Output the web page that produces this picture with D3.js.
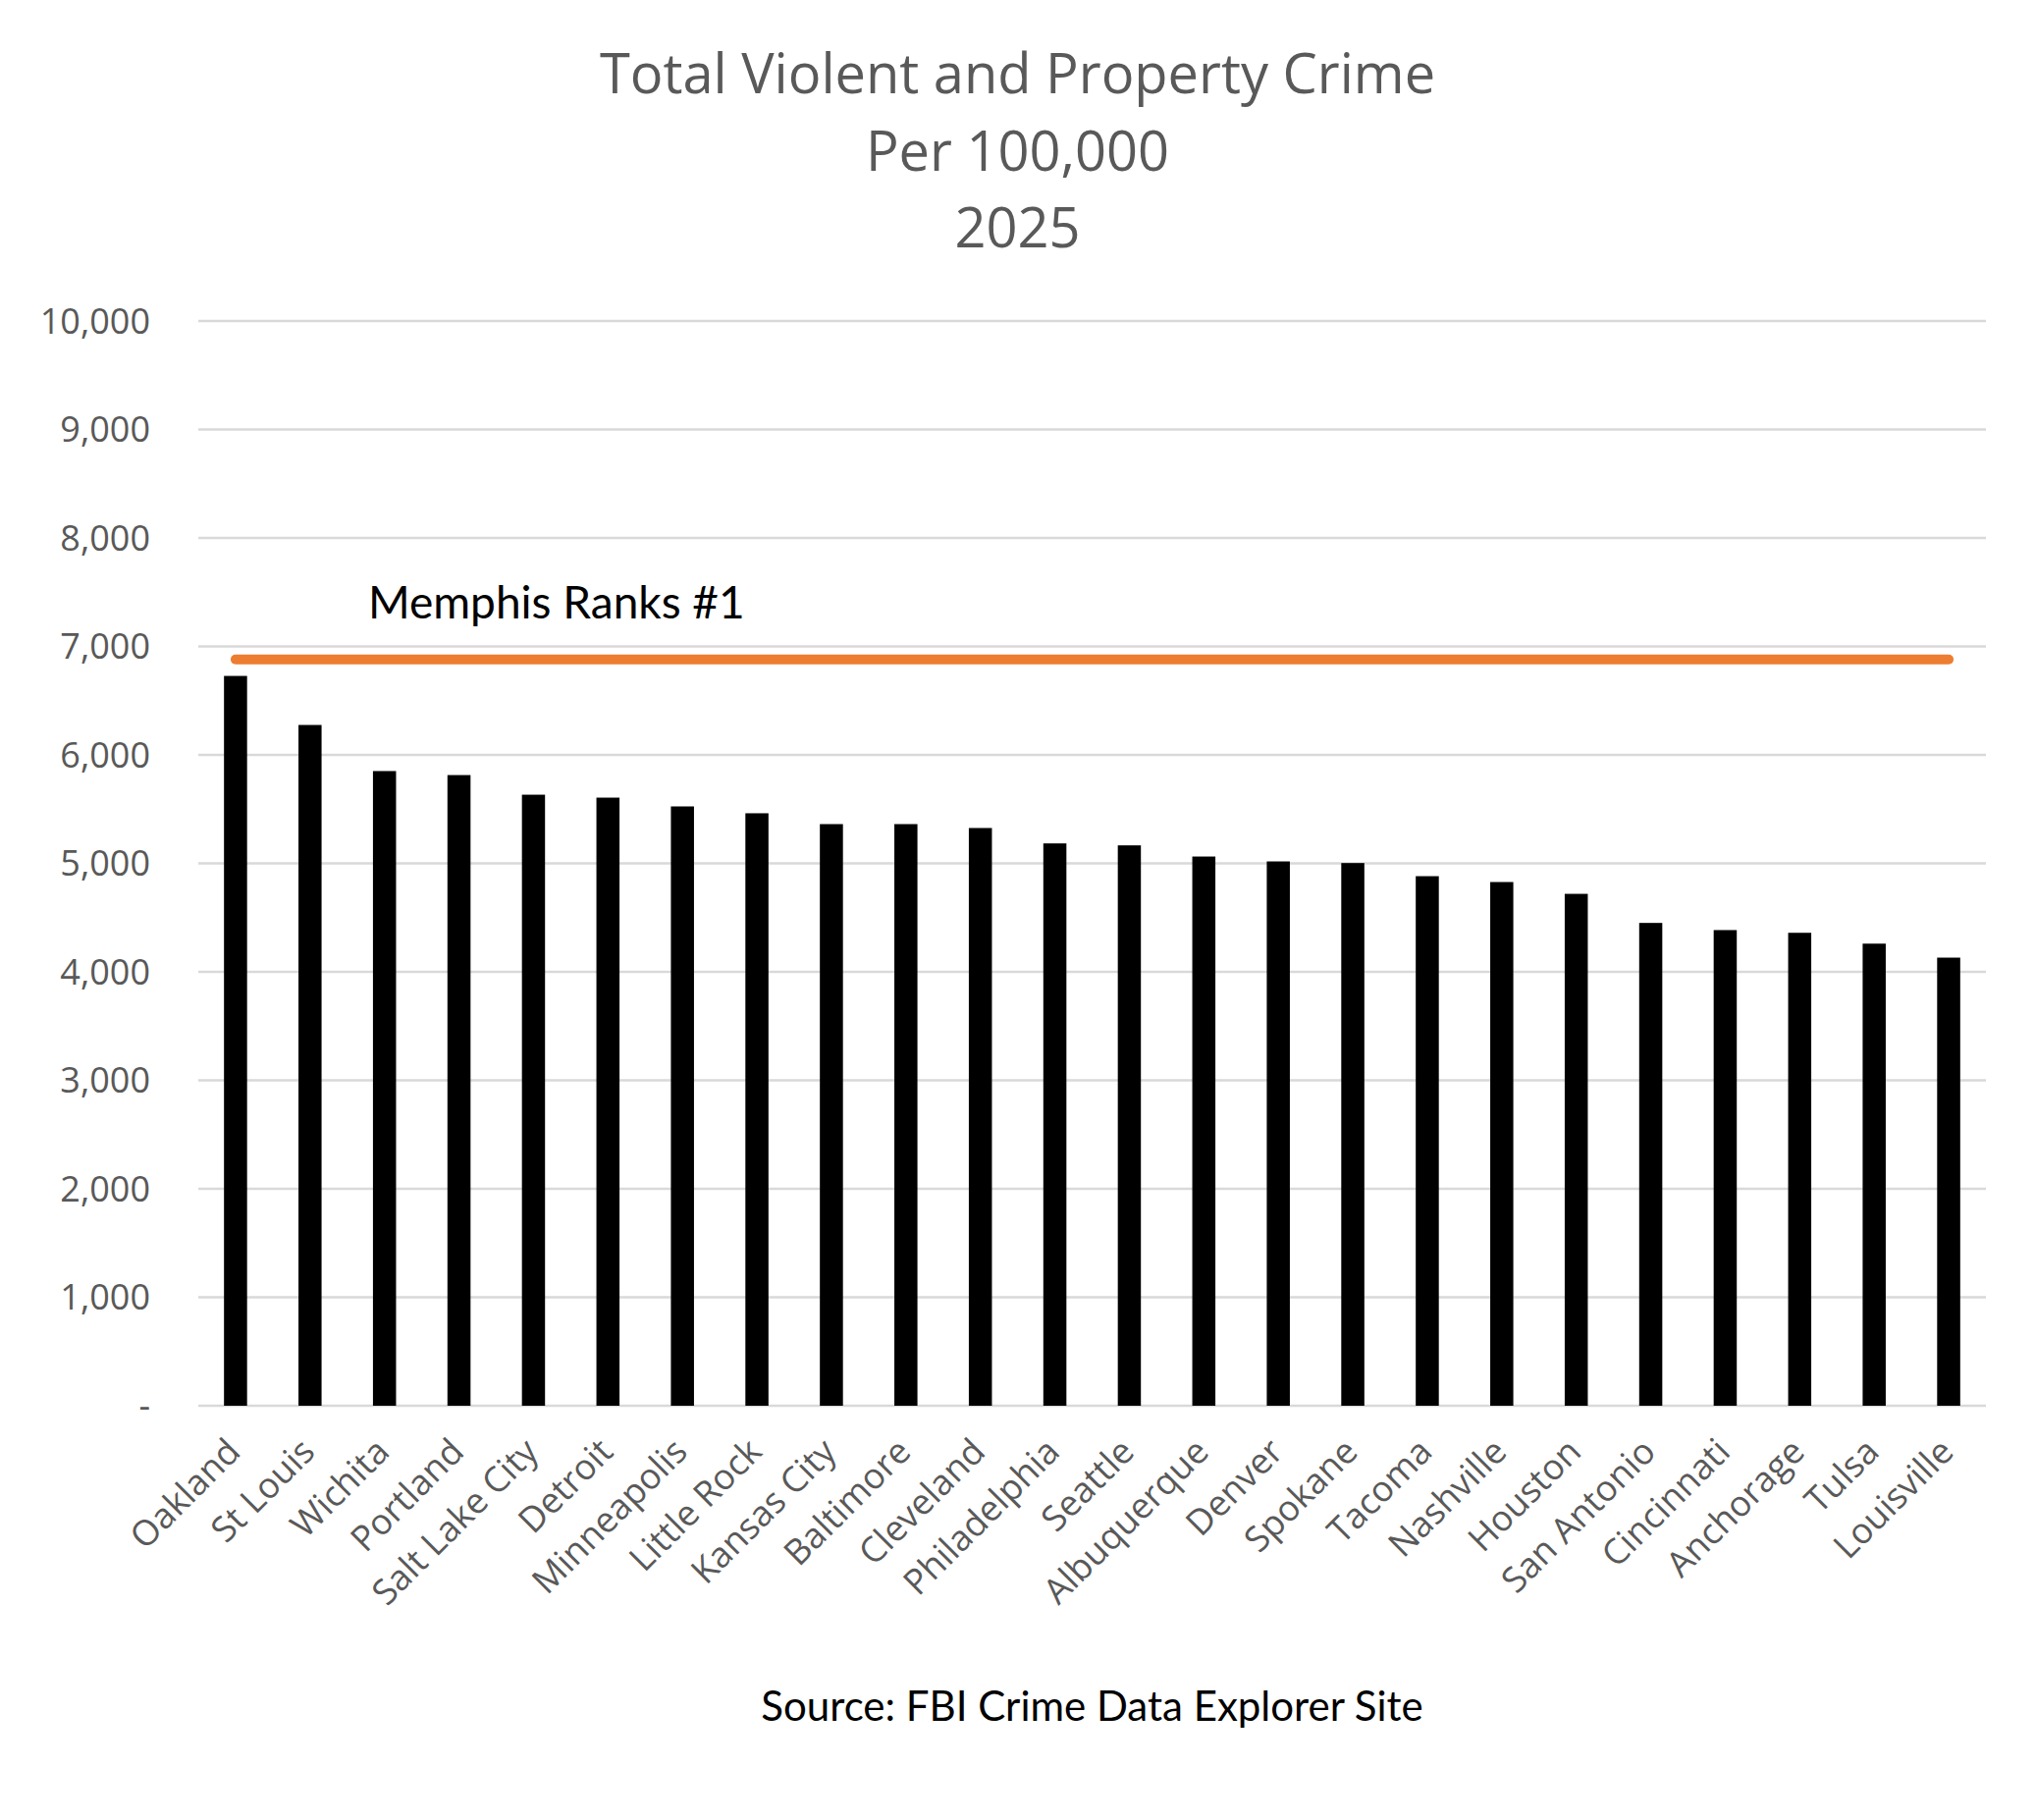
<!DOCTYPE html>
<html>
<head>
<meta charset="utf-8">
<script src="https://cdn.jsdelivr.net/npm/d3@7"></script>
<style>
  html, body { margin: 0; padding: 0; background: #fff; }
  svg { display: block; }
</style>
</head>
<body>
<div id="chart"></div>
<script>
// data
const cities = [
  "Oakland", "St Louis", "Wichita", "Portland", "Salt Lake City", "Detroit",
  "Minneapolis", "Little Rock", "Kansas City", "Baltimore", "Cleveland",
  "Philadelphia", "Seattle", "Albuquerque", "Denver", "Spokane", "Tacoma",
  "Nashville", "Houston", "San Antonio", "Cincinnati", "Anchorage", "Tulsa",
  "Louisville"
];
const crimeRate = [
  6728, 6276, 5851, 5814, 5633, 5606, 5525, 5462, 5362, 5362, 5326, 5184,
  5166, 5063, 5018, 5003, 4882, 4828, 4719, 4451, 4385, 4360, 4260, 4131
];
const memphisRate = 6880;
const yTicks = [0, 1000, 2000, 3000, 4000, 5000, 6000, 7000, 8000, 9000, 10000];
const titleLines = ["Total Violent and Property Crime", "Per 100,000", "2025"];
const noteText = "Memphis Ranks #1";
const sourceText = "Source: FBI Crime Data Explorer Site";

const width = 2073;
const height = 1854;
const margin = { top: 327, right: 50, bottom: 422, left: 202 };
const innerWidth = width - margin.left - margin.right;
const innerHeight = height - margin.top - margin.bottom;

const GRAY = "#595959";
const GRID = "#d9d9d9";
const ORANGE = "#ed7d31";

const rows = cities.map((c, i) => ({ city: c, value: crimeRate[i] }));

const svg = d3
  .select("#chart")
  .append("svg")
  .attr("width", width)
  .attr("height", height);

//title
svg
  .append("g")
  .selectAll("text")
  .data(titleLines)
  .join("text")
  .attr("x", width / 2)
  .attr("y", (d, i) => 95 + i * 78.5)
  .attr("text-anchor", "middle")
  .attr("font-family", "'Open Sans', sans-serif")
  .attr("font-size", 56)
  .attr("fill", GRAY)
  .text((d) => d);

const g = svg
  .append("g")
  .attr("transform", `translate(${margin.left},${margin.top})`);

//scales
const x = d3.scaleBand().domain(cities).range([0, innerWidth]).padding(0);
const y = d3.scaleLinear().domain([0, 10000]).range([innerHeight, 0]);
const barW = x.bandwidth() * 0.31;

//gridlines
g.append("g")
  .attr("class", "grid")
  .selectAll("line")
  .data(yTicks)
  .join("line")
  .attr("x1", 0)
  .attr("x2", innerWidth)
  .attr("y1", (d) => y(d))
  .attr("y2", (d) => y(d))
  .attr("stroke", GRID)
  .attr("stroke-width", 2.5);

//y labels
g.append("g")
  .attr("transform", "translate(-49,0)")
  .call(
    d3
      .axisLeft(y)
      .tickValues(yTicks)
      .tickSize(0)
      .tickFormat((d) => (d === 0 ? "-" : d3.format(",")(d)))
  )
  .call((sel) => sel.select(".domain").remove())
  .selectAll("text")
  .attr("font-family", "'Open Sans', sans-serif")
  .attr("font-size", 36)
  .attr("fill", GRAY)
  .attr("x", 0)
  .attr("dy", "0.34em");

//bars
g.selectAll("rect.bar")
  .data(rows)
  .join("rect")
  .attr("class", "bar")
  .attr("x", (d) => x(d.city) + (x.bandwidth() - barW) / 2)
  .attr("y", (d) => y(d.value))
  .attr("width", barW)
  .attr("height", (d) => y(0) - y(d.value))
  .attr("fill", "#000");

//memphis line
const lineData = cities.map((c) => ({ city: c, value: memphisRate }));
g.append("path")
  .datum(lineData)
  .attr("fill", "none")
  .attr("stroke", ORANGE)
  .attr("stroke-width", 10)
  .attr("stroke-linecap", "round")
  .attr(
    "d",
    d3
      .line()
      .x((d) => x(d.city) + x.bandwidth() / 2)
      .y((d) => y(d.value))
  );

//x labels, rotated like excel
g.append("g")
  .selectAll("text")
  .data(cities)
  .join("text")
  .attr(
    "transform",
    (d) => `translate(${x(d) + x.bandwidth() / 2 - 2},${innerHeight + 40}) rotate(-45)`
  )
  .attr("text-anchor", "end")
  .attr("dy", "0.35em")
  .attr("font-family", "'Open Sans', sans-serif")
  .attr("font-size", 36)
  .attr("fill", GRAY)
  .text((d) => d);

//annotation
svg
  .append("text")
  .attr("x", 375)
  .attr("y", 630)
  .attr("font-family", "Lato, sans-serif")
  .attr("font-size", 46)
  .attr("fill", "#000")
  .text(noteText);

svg
  .append("text")
  .attr("x", margin.left + innerWidth / 2)
  .attr("y", 1753)
  .attr("text-anchor", "middle")
  .attr("font-family", "Lato, sans-serif")
  .attr("font-size", 42)
  .attr("fill", "#000")
  .text(sourceText);
</script>
</body>
</html>
